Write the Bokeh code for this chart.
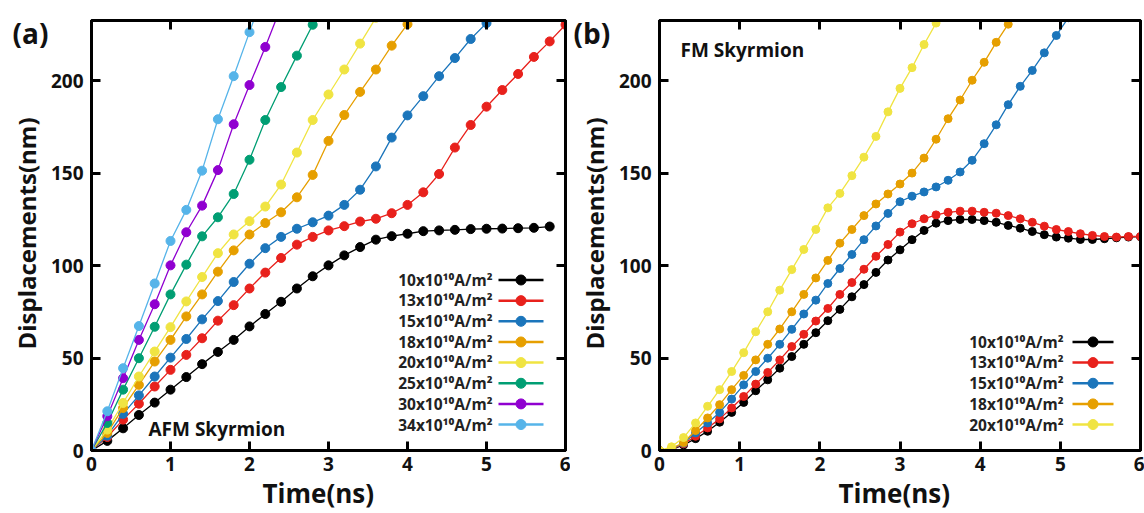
import math
from bokeh.plotting import figure
from bokeh.layouts import row
from bokeh.models import Label, LinearAxis, Range1d, FixedTicker, Title
from bokeh.embed import file_html
from bokeh.resources import INLINE

# ---------------- data ----------------
# (a) AFM skyrmion, sampled every 0.2 ns
afm_step = 0.2
afm_currents = ["10", "13", "15", "18", "20", "25", "30", "34"]
afm_10 = [0, 5.2, 12.0, 19.2, 25.9, 32.9, 39.7, 46.7, 53.3, 59.8, 67.1, 73.8, 80.4, 87.6, 94.2,
          100.1, 105.5, 110.0, 114.0, 115.9, 117.2, 118.6, 119.0, 119.3, 119.7, 119.9, 120.0,
          120.2, 120.4, 121.1]
afm_13 = [0, 7.3, 16.7, 25.3, 34.6, 43.6, 51.7, 60.7, 70.2, 78.6, 87.6, 96.2, 104.1, 111.3,
          115.5, 119.0, 121.3, 123.8, 125.3, 128.3, 132.8, 139.6, 149.5, 163.8, 176.0, 185.9,
          194.9, 203.6, 212.8, 221.2, 230.2]
afm_15 = [0, 8.0, 19.8, 29.8, 40.0, 50.2, 60.3, 70.9, 80.8, 91.1, 101.0, 109.4, 115.5, 119.9,
          123.4, 127.0, 132.8, 141.0, 153.6, 169.2, 181.2, 191.6, 202.4, 212.2, 222.5, 231.1]
afm_18 = [0, 9.5, 23.0, 35.5, 48.1, 59.8, 72.5, 84.4, 96.7, 108.2, 116.8, 123.0, 128.8, 136.9,
          149.0, 167.4, 181.4, 193.9, 206.0, 218.9, 230.5]
afm_20 = [0, 11.3, 25.7, 40.0, 53.5, 66.7, 80.6, 93.8, 106.7, 116.8, 124.0, 131.9, 143.8, 161.1,
          178.7, 192.5, 206.0, 220.0, 234.0]
afm_25 = [0, 14.9, 32.9, 49.9, 66.9, 84.4, 100.5, 115.8, 126.1, 138.7, 157.2, 178.7, 196.5,
          213.5, 230.2]
afm_30 = [0, 18.5, 39.1, 59.8, 79.1, 100.1, 118.0, 132.4, 151.6, 176.4, 197.6, 218.2, 240.0]
afm_34 = [0, 21.2, 44.5, 67.3, 90.3, 113.3, 130.1, 151.3, 179.1, 202.4, 226.2, 250.0]
afm_series = [afm_10, afm_13, afm_15, afm_18, afm_20, afm_25, afm_30, afm_34]

# (b) FM skyrmion, sampled every 0.15 ns
fm_step = 0.15
fm_currents = ["10", "13", "15", "18", "20"]
fm_10 = [0, 0.4, 3.0, 6.4, 10.4, 15.3, 20.6, 26.0, 32.3, 38.2, 44.5, 50.8, 57.4, 63.7, 70.2,
         76.3, 83.1, 89.7, 96.3, 103.0, 108.5, 114.0, 119.0, 122.9, 124.3, 124.9, 124.9, 124.3,
         123.4, 121.7, 120.2, 118.4, 116.7, 115.4, 114.8, 114.1, 114.1, 114.5, 115.0, 115.4, 115.6]
fm_13 = [0, 0.6, 3.6, 7.7, 12.2, 17.1, 23.0, 29.2, 35.9, 42.2, 49.0, 56.2, 62.8, 70.0, 76.8,
         84.4, 90.8, 98.0, 105.0, 111.4, 118.1, 122.6, 125.3, 127.4, 128.8, 129.4, 129.4, 128.8,
         128.3, 127.0, 125.3, 123.4, 121.3, 119.5, 118.4, 117.2, 116.3, 115.7, 115.4, 115.7, 115.7]
fm_15 = [0, 0.7, 4.0, 9.5, 14.9, 20.6, 27.8, 35.5, 42.7, 49.9, 57.4, 65.5, 73.8, 81.3, 90.3,
         98.4, 106.0, 114.0, 121.4, 128.2, 134.5, 137.5, 139.8, 142.5, 146.1, 150.6, 156.9, 165.9,
         176.1, 187.0, 196.9, 205.5, 215.0, 224.4, 234.0]
fm_18 = [0, 1.0, 4.3, 10.8, 17.6, 24.8, 32.9, 40.6, 49.0, 57.4, 65.7, 75.0, 84.4, 93.3, 102.8,
         112.1, 119.5, 127.0, 133.3, 138.7, 144.1, 150.0, 158.1, 168.3, 179.4, 189.5, 200.2,
         209.9, 220.7, 230.5]
fm_20 = [0, 2.0, 7.0, 14.9, 23.9, 32.9, 42.7, 52.9, 64.2, 75.0, 86.7, 97.8, 108.7, 119.5, 131.2,
         139.0, 148.6, 158.6, 169.8, 183.1, 195.8, 207.0, 219.5, 231.1]
fm_series = [fm_10, fm_13, fm_15, fm_18, fm_20]

x_ticks = [0, 1, 2, 3, 4, 5, 6]
y_ticks = [0, 50, 100, 150, 200]

palette = ["#000000", "#e8211c", "#1b75bb", "#e69f00", "#f0e442", "#009e73", "#9000d0", "#56b4e9"]

# ---------------- styling ----------------
FONT = "Open Sans"
INK = "#111111"
X_MAX, Y_MAX = 6.0, 232.5
TOP, FRAME_H, BOTTOM = 20, 431, 62


def style_ticks(ax, ticks):
    ax.ticker = FixedTicker(ticks=ticks)
    ax.axis_line_width = 3
    ax.major_tick_line_width = 3
    ax.major_tick_in = 9
    ax.major_tick_out = 0
    ax.minor_tick_line_color = None


def make_panel(width, left, right):
    p = figure(width=width, height=TOP + FRAME_H + BOTTOM,
               x_range=Range1d(0, X_MAX), y_range=Range1d(0, Y_MAX),
               output_backend="svg", toolbar_location=None,
               min_border_left=left, min_border_right=right,
               min_border_top=TOP, min_border_bottom=BOTTOM)
    p.grid.visible = False
    p.background_fill_color = "white"
    p.border_fill_color = "white"
    p.outline_line_color = "black"
    p.outline_line_width = 3

    for ax, ticks in ((p.xaxis[0], x_ticks), (p.yaxis[0], y_ticks)):
        style_ticks(ax, ticks)
        ax.major_label_text_font = FONT
        ax.major_label_text_font_style = "bold"
        ax.major_label_text_font_size = "19px"
        ax.major_label_text_color = INK
    p.xaxis[0].major_label_standoff = 6
    p.yaxis[0].major_label_standoff = 8

    # mirrored tick marks on the top and right edges, without labels
    for side, ticks in (("above", x_ticks), ("right", y_ticks)):
        ax = LinearAxis()
        style_ticks(ax, ticks)
        ax.major_label_text_font_size = "0px"
        ax.major_label_text_color = None
        ax.major_label_standoff = 0
        p.add_layout(ax, side)
    return p


def add_text(p, x, y, text, size, align="center", color=INK):
    p.add_layout(Label(x=x, y=y, x_units="screen", y_units="screen", text=text,
                       text_font=FONT, text_font_style="bold", text_font_size=size,
                       text_color=color, text_align=align, text_baseline="middle"))


def title(text, size, align, offset, standoff, valign):
    return Title(text=text, text_font=FONT, text_font_style="bold", text_font_size=size,
                 text_color=INK, align=align, offset=offset, standoff=standoff,
                 vertical_align=valign)


def draw_panel(p, frame_w, series, step, currents, marker, legend_x, name, name_xy,
               tag, tag_offset, ylab_offset, xlab_offset):
    for vals, c in zip(series, palette):
        t = [round(i * step, 4) for i in range(len(vals))]
        p.line(t, vals, line_color=c, line_width=1.3)
        p.scatter(t, vals, marker="circle", size=marker, fill_color=c, line_color=c)

    # legend: label on the left, sample line with a dot on the right
    to_x = X_MAX / frame_w
    to_y = Y_MAX / FRAME_H
    text_right, line_l, line_r = legend_x
    n = len(series)
    for k, (cur, c) in enumerate(zip(currents, palette)):
        sy = 26 + 20.7 * (n - 1 - k)
        yy = sy * to_y
        p.line([line_l * to_x, line_r * to_x], [yy, yy], line_color=c, line_width=2.5)
        p.scatter([(line_l + line_r) / 2 * to_x], [yy], marker="circle", size=10,
                  fill_color=c, line_color=c)
        add_text(p, text_right, sy, f"{cur}x10\u00b9\u2070A/m\u00b2", "15.5px", align="right",
                 color="#222222")

    add_text(p, name_xy[0], name_xy[1], name, "19px", align="left")

    p.add_layout(title("Displacements(nm)", "24px", "left", ylab_offset, 10, "bottom"), "left")
    p.add_layout(title("Time(ns)", "26px", "left", xlab_offset, 2, "top"), "below")
    p.title.text = tag
    p.title.text_font = FONT
    p.title.text_font_style = "bold"
    p.title.text_font_size = "28px"
    p.title.text_color = INK
    p.title.align = "left"
    p.title.offset = tag_offset
    p.title.standoff = -62
    p.title.vertical_align = "bottom"


pa = make_panel(570, 91, 5)
draw_panel(pa, 474, afm_series, afm_step, afm_currents, 9, (401, 407, 452),
           "AFM Skyrmion", (57, 22), "(a)", -79, 101, 171)

pb = make_panel(574, 89, 4)
draw_panel(pb, 481, fm_series, fm_step, fm_currents, 8, (404, 413, 454),
           "FM Skyrmion", (21, 401), "(b)", -86, 101, 179)

layout = row(pa, pb)
open("out.html", "w").write(file_html(layout, INLINE))
